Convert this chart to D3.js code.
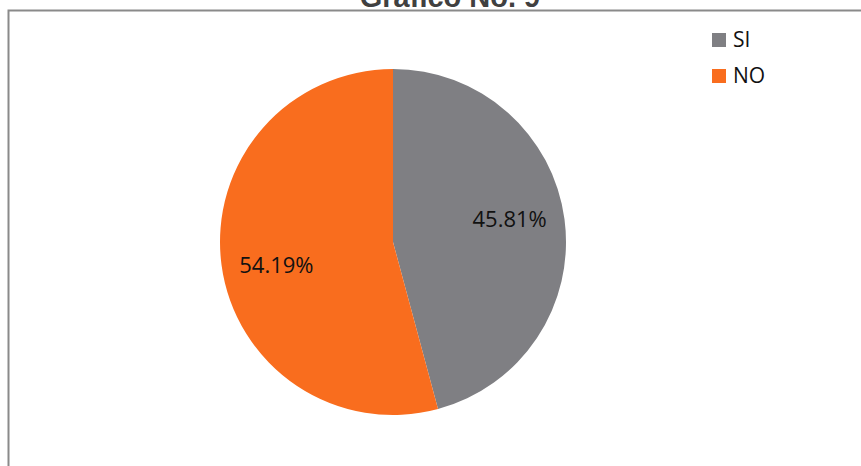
<!DOCTYPE html>
<html><head><meta charset="utf-8">
<script src="https://cdn.jsdelivr.net/npm/d3@7"></script>
<style>html,body{margin:0;padding:0;background:#fff;}</style>
</head><body>
<svg id="c" width="861" height="466"></svg>
<script>
const categories = ["SI", "NO"];
const values = [45.81, 54.19];
const colors = ["#7F7F83", "#F96D1E"];
const title = "Gráfico No. 9";

const svg = d3.select("#c");
svg.append("path").attr("d","M8.5,466 V10.5 H861").attr("fill","none").attr("stroke","#8a8a8a").attr("stroke-width",2);
svg.append("text").attr("x",450).attr("y",7).attr("text-anchor","middle")
  .attr("font-family","Liberation Sans, Arial, sans-serif").attr("font-weight","bold")
  .attr("font-size",29).attr("fill","#404040").text(title);

const cx = 393, cy = 242, r = 173;
const pie = d3.pie().sort(null).value(d=>d)(values);
const arc = d3.arc().innerRadius(0).outerRadius(r);
const g = svg.append("g").attr("transform",`translate(${cx},${cy})`);
g.selectAll("path").data(pie).enter().append("path").attr("d",arc).attr("fill",(d,i)=>colors[i]);
const labelArc = d3.arc().innerRadius(r*0.68).outerRadius(r*0.68);
g.selectAll("text").data(pie).enter().append("text")
  .attr("transform",d=>{const c=labelArc.centroid(d);return `translate(${c[0]},${c[1]*1.5})`;})
  .attr("text-anchor","middle").attr("dy","0.35em")
  .attr("font-family","Open Sans, Liberation Sans, sans-serif").attr("font-size",22).attr("fill","#111")
  .text(d=>d.data.toFixed(2)+"%");

const leg = svg.append("g").attr("transform","translate(712,33)");
categories.forEach((c,i)=>{
  leg.append("rect").attr("x",0).attr("y",i*36).attr("width",14).attr("height",14).attr("fill",colors[i]);
  leg.append("text").attr("x",21).attr("y",i*36+14).attr("font-family","Open Sans, Liberation Sans, sans-serif")
    .attr("font-size",21).attr("fill","#111").text(c);
});
</script>
</body></html>
